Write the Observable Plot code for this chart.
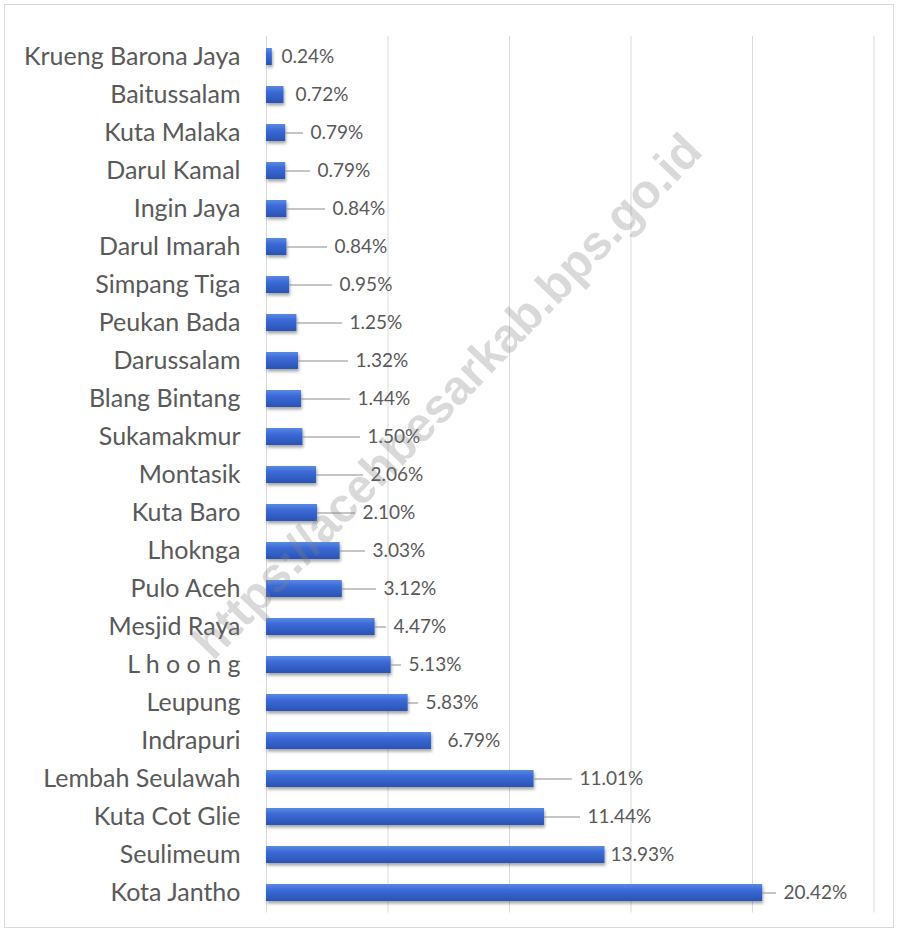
<!DOCTYPE html>
<html>
<head>
<meta charset="utf-8">
<script src="https://cdn.jsdelivr.net/npm/d3@7"></script>
<script src="https://cdn.jsdelivr.net/npm/@observablehq/plot@0.6"></script>
<style>
  html, body { margin: 0; padding: 0; background: #fff; }
  #wrap { position: relative; width: 903px; height: 936px; overflow: hidden; }
  #border { position: absolute; left: 4px; top: 4px; width: 890px; height: 924px; border: 1px solid #d9d9d9; box-sizing: border-box; pointer-events: none; }
  #chart { position: absolute; left: 0; top: 0; }
  #watermark {
    position: absolute; left: 447px; top: 396px;
    transform: translate(-50%, -50%) rotate(-46deg);
    font-family: "Liberation Sans", Arial, sans-serif; font-weight: bold; font-size: 48px;
    color: rgba(128,128,128,0.3); white-space: nowrap; pointer-events: none;
  }
</style>
</head>
<body>
<div id="wrap">
  <div id="chart"></div>
  <div id="border"></div>
  <div id="watermark">https://acehbesarkab.bps.go.id</div>
</div>
<script>
const names = [
  "Krueng Barona Jaya", "Baitussalam", "Kuta Malaka", "Darul Kamal", "Ingin Jaya",
  "Darul Imarah", "Simpang Tiga", "Peukan Bada", "Darussalam", "Blang Bintang",
  "Sukamakmur", "Montasik", "Kuta Baro", "Lhoknga", "Pulo Aceh", "Mesjid Raya",
  "L h o o n g", "Leupung", "Indrapuri", "Lembah Seulawah", "Kuta Cot Glie",
  "Seulimeum", "Kota Jantho"
];
const values = [
  0.24, 0.72, 0.79, 0.79, 0.84,
  0.84, 0.95, 1.25, 1.32, 1.44,
  1.50, 2.06, 2.10, 3.03, 3.12, 4.47,
  5.13, 5.83, 6.79, 11.01, 11.44,
  13.93, 20.42
];
// where each data label was placed (in % units)
const labelAt = [
  0.33, 0.91, 1.52, 1.81, 2.43,
  2.51, 2.72, 3.13, 3.37, 3.46,
  3.87, 3.99, 3.66, 4.07, 4.53, 4.94,
  5.56, 6.26, 7.16, 12.59, 12.92,
  13.87, 20.99
];
// whether a leader line is drawn to the label
const leader = [
  false, false, true, true, true,
  true, true, true, true, true,
  true, true, true, true, true, true,
  true, true, false, true, true,
  false, true
];
const xTicks = [0, 5, 10, 15, 20, 25];

const data = names.map((n, i) => ({ name: n, value: values[i], labelAt: labelAt[i], leader: leader[i] }));

const svg = Plot.plot({
  width: 903,
  height: 936,
  marginLeft: 266,
  marginRight: 29.5,
  marginTop: 36,
  marginBottom: 23.5,
  x: { domain: [0, 25], axis: null },
  y: { domain: names, paddingInner: 0.55, paddingOuter: 0.275, label: null, axis: null },
  style: { fontFamily: "Lato, 'Open Sans', sans-serif", background: "transparent", color: "#595959" },
  marks: [
    Plot.gridX(xTicks, { stroke: "#d9d9d9", strokeOpacity: 1, strokeWidth: 1 }),
    Plot.barX(data, { x: "value", y: "name", fill: "#3366cc" }),
    Plot.ruleY(data.filter(d => d.leader), { y: "name", x1: "value", x2: "labelAt", stroke: "#8c8c8c", strokeWidth: 1 }),
    Plot.text(data, {
      x: "labelAt", y: "name", text: d => d.value.toFixed(2) + "%",
      textAnchor: "start", dx: 7, fontSize: 19, fill: "#595959"
    }),
    Plot.axisY({ tickSize: 0, tickPadding: 26, fontSize: 25, color: "#595959", label: null })
  ]
});

const s = d3.select(svg);
const defs = s.insert("defs", ":first-child");
const grad = defs.append("linearGradient").attr("id", "barGrad")
  .attr("x1", 0).attr("y1", 0).attr("x2", 0).attr("y2", 1);
grad.append("stop").attr("offset", "0%").attr("stop-color", "#5b8ae4");
grad.append("stop").attr("offset", "35%").attr("stop-color", "#3b6ad6");
grad.append("stop").attr("offset", "100%").attr("stop-color", "#2a53b4");
const f = defs.append("filter").attr("id", "barShadow")
  .attr("x", "-5%").attr("y", "-20%").attr("width", "110%").attr("height", "160%");
f.append("feDropShadow").attr("dx", 1).attr("dy", 2.5).attr("stdDeviation", 1.6)
  .attr("flood-color", "#000").attr("flood-opacity", 0.35);
const barG = s.select('g[aria-label="bar"]');
barG.attr("filter", "url(#barShadow)");
barG.selectAll("rect").attr("fill", "url(#barGrad)");

document.getElementById("chart").appendChild(svg);
</script>
</body>
</html>
